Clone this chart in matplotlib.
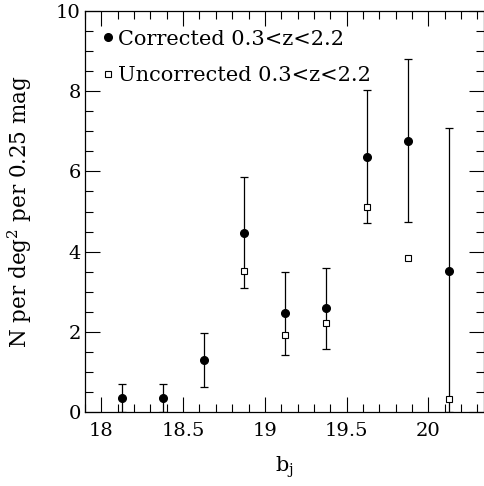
import numpy as np
import matplotlib
matplotlib.use("Agg")
import matplotlib.pyplot as plt
from matplotlib.ticker import MultipleLocator

# magnitude bins (b_j)
bj = [18.125, 18.375, 18.625, 18.875, 19.125, 19.375, 19.625, 19.875, 20.125]
# corrected counts and error bar ends
corrected = [0.34, 0.34, 1.29, 4.47, 2.47, 2.59, 6.37, 6.77, 3.51]
err_hi = [0.71, 0.71, 1.96, 5.87, 3.49, 3.59, 8.04, 8.80, 7.09]
err_lo = [0.0, 0.0, 0.63, 3.08, 1.43, 1.58, 4.71, 4.74, 0.0]
# uncorrected counts (first three hidden behind corrected points)
uncorrected = [np.nan, np.nan, np.nan, 3.51, 1.91, 2.23, 5.11, 3.83, 0.32]

plt.rcParams['font.family'] = ['DejaVu Serif']
plt.rcParams['mathtext.fontset'] = 'dejavuserif'

fig = plt.figure(figsize=(4.85, 4.86), dpi=100)
ax = fig.add_axes([0.1753, 0.1523, 0.8227, 0.825])

x = np.array(bj)
y = np.array(corrected)
yerr = np.vstack([y - np.array(err_lo), np.array(err_hi) - y])

ax.errorbar(x, y, yerr=yerr, fmt='none', ecolor='black', elinewidth=0.9,
            capsize=3.2, capthick=0.9, zorder=2)
ax.plot(x, uncorrected, linestyle='none', marker='s', markersize=4,
        markerfacecolor='white', markeredgecolor='black', markeredgewidth=0.8,
        label='Uncorrected 0.3<z<2.2', zorder=3)
ax.plot(x, y, linestyle='none', marker='o', markersize=5.5,
        color='black', label='Corrected 0.3<z<2.2', zorder=4)

ax.set_xlim(17.9, 20.34)
ax.set_ylim(0, 10)
ax.xaxis.set_major_locator(MultipleLocator(0.5))
ax.xaxis.set_minor_locator(MultipleLocator(0.1))
ax.yaxis.set_major_locator(MultipleLocator(2))
ax.yaxis.set_minor_locator(MultipleLocator(0.5))
ax.xaxis.set_major_formatter(plt.FuncFormatter(lambda v, p: ('%g' % v)))
ax.tick_params(which='both', direction='in', top=True, right=True,
               labelsize=14, width=0.8)
ax.tick_params(which='major', length=10.5)
ax.tick_params(axis='x', which='major', pad=7)
ax.tick_params(axis='y', which='major', pad=3)
ax.tick_params(which='minor', length=5.5)
for s in ax.spines.values():
    s.set_linewidth(0.9)

ax.set_xlabel('b$_\\mathrm{j}$', fontsize=15, labelpad=11)
ax.set_ylabel('N per deg$^2$ per 0.25 mag', fontsize=15.5, labelpad=16)

h, l = ax.get_legend_handles_labels()
ax.legend(h[::-1], l[::-1], loc='upper left', frameon=False, fontsize=15,
          handlelength=0.4, handletextpad=0.3, labelspacing=0.85,
          borderaxespad=0.2, borderpad=0.7)

plt.savefig('out.png', dpi=100)
